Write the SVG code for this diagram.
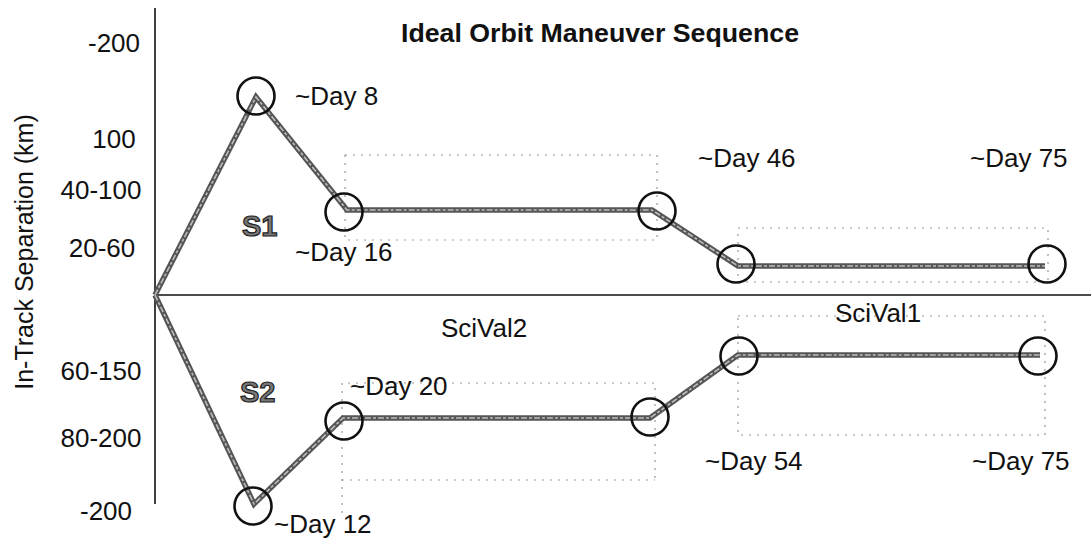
<svg xmlns="http://www.w3.org/2000/svg" width="1091" height="542" viewBox="0 0 1091 542">
  <style>
    .lbl { font-family: "Liberation Sans", Arial, sans-serif; font-size: 26px; fill: #111; }
    .tick { font-family: "Liberation Sans", Arial, sans-serif; font-size: 26px; fill: #111; text-anchor: middle; }
    .sat { font-family: "Liberation Sans", Arial, sans-serif; font-size: 29px; font-weight: bold; fill: #777; stroke: #222; stroke-width: 1.2; }
    .title { font-family: "Liberation Sans", Arial, sans-serif; font-size: 25px; font-weight: bold; fill: #111; text-anchor: middle; }
    .axis { stroke: #111; stroke-width: 1.6; fill: none; }
    .dot { stroke: #999; stroke-width: 1.2; stroke-dasharray: 2 6; fill: none; }
    .trackOuter { stroke: #555; stroke-width: 5.5; fill: none; stroke-linejoin: miter; }
    .trackInner { stroke: #bdbdbd; stroke-width: 1.6; fill: none; stroke-dasharray: 6 2 3 2; }
    .ring { stroke: #111; stroke-width: 2.6; fill: none; }
  </style>

  <!-- title -->
  <text class="title" x="600" y="42" textLength="398" lengthAdjust="spacingAndGlyphs">Ideal Orbit Maneuver Sequence</text>

  <!-- axes -->
  <g id="axes">
    <line class="axis" x1="155" y1="8" x2="155" y2="504"/>
    <line class="axis" x1="155" y1="295" x2="1091" y2="295"/>
    <text class="tick" x="114" y="52">-200</text>
    <text class="tick" x="114" y="148">100</text>
    <text class="tick" x="101" y="199">40-100</text>
    <text class="tick" x="102" y="257">20-60</text>
    <text class="tick" x="101" y="380">60-150</text>
    <text class="tick" x="101" y="447">80-200</text>
    <text class="tick" x="106" y="520">-200</text>
    <text class="lbl" transform="translate(33,252) rotate(-90)" text-anchor="middle" style="font-size:25px">In-Track Separation (km)</text>
  </g>

  <!-- science validation windows -->
  <g id="windows">
    <rect class="dot" x="345" y="155" width="312" height="85"/>
    <rect class="dot" x="738" y="228" width="310" height="54"/>
    <polyline class="dot" points="342,513 342,383 655,383 655,480"/>
    <line class="dot" x1="342" y1="480" x2="655" y2="480"/>
    <rect class="dot" x="738" y="316" width="307" height="119"/>
  </g>

  <!-- maneuver tracks -->
  <g id="connectors">
    <polyline class="trackOuter" points="155,295 256,97 347,210 652,210 738,266 1045,266"/>
    <polyline class="trackInner" points="155,295 256,97 347,210 652,210 738,266 1045,266"/>
    <polyline class="trackOuter" points="155,295 254,504 343,418 650,418 738,355 1040,355"/>
    <polyline class="trackInner" points="155,295 254,504 343,418 650,418 738,355 1040,355"/>
  </g>

  <!-- S1 maneuver points -->
  <g id="s1-day8"><circle class="ring" cx="256" cy="96" r="18.5"/><text class="lbl" x="295" y="105">~Day 8</text></g>
  <g id="s1-day16"><circle class="ring" cx="344" cy="212" r="18.5"/><text class="lbl" x="295" y="261">~Day 16</text></g>
  <g id="s1-day46"><circle class="ring" cx="657" cy="211" r="18.5"/><text class="lbl" x="698" y="167">~Day 46</text></g>
  <g id="s1-day54"><circle class="ring" cx="736" cy="264" r="18.5"/></g>
  <g id="s1-day75"><circle class="ring" cx="1047" cy="264" r="18.5"/><text class="lbl" x="970" y="167">~Day 75</text></g>
  <g id="s1"><text class="sat" x="242" y="236">S1</text></g>

  <!-- S2 maneuver points -->
  <g id="s2-day12"><circle class="ring" cx="253" cy="506" r="18.5"/><text class="lbl" x="274" y="533">~Day 12</text></g>
  <g id="s2-day20"><circle class="ring" cx="344" cy="421" r="18.5"/><text class="lbl" x="350" y="395">~Day 20</text></g>
  <g id="s2-day46"><circle class="ring" cx="650" cy="417" r="18.5"/></g>
  <g id="s2-day54"><circle class="ring" cx="739" cy="356" r="18.5"/><text class="lbl" x="705" y="470">~Day 54</text></g>
  <g id="s2-day75"><circle class="ring" cx="1038" cy="356" r="18.5"/><text class="lbl" x="972" y="470">~Day 75</text></g>
  <g id="s2"><text class="sat" x="240" y="402">S2</text></g>

  <!-- window labels -->
  <g id="scival2"><text class="lbl" x="441" y="337">SciVal2</text></g>
  <g id="scival1"><text class="lbl" x="878" y="322" text-anchor="middle">SciVal1</text></g>
</svg>
